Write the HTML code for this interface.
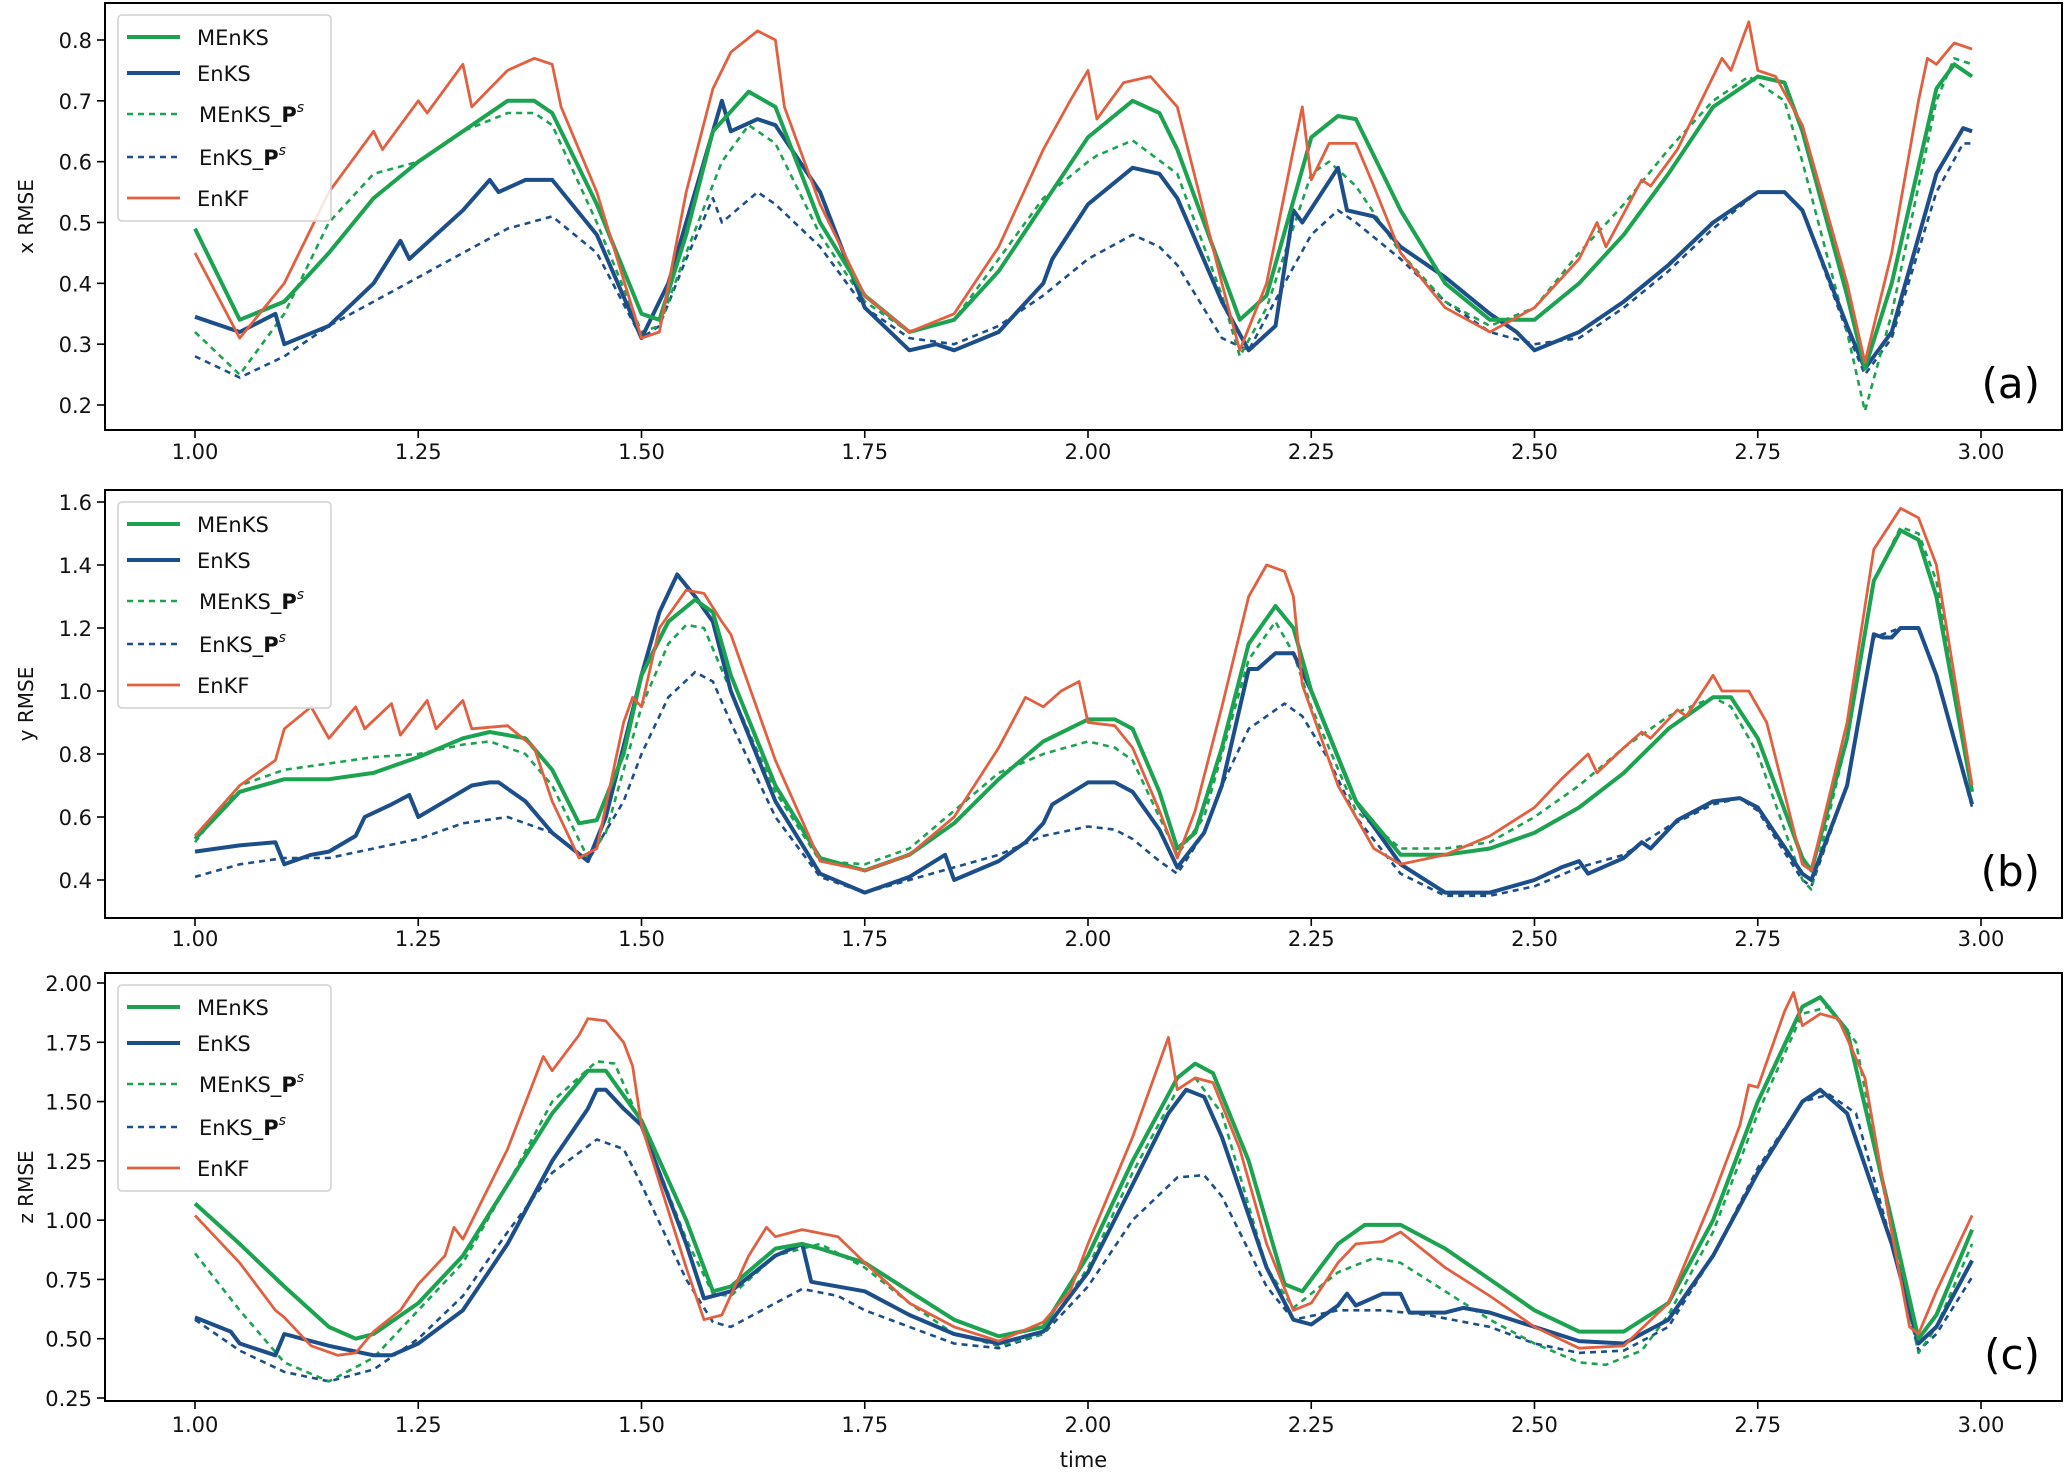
<!DOCTYPE html>
<html><head><meta charset="utf-8">
<style>
html,body{margin:0;padding:0;background:#fff;}
svg{display:block;font-family:"DejaVu Sans","Liberation Sans",sans-serif;}
</style></head>
<body>
<svg id="chart" width="2066" height="1472" viewBox="0 0 2066 1472" xmlns="http://www.w3.org/2000/svg"></svg>
<script>
// ---------- data ----------
const xTicks = [1.00,1.25,1.50,1.75,2.00,2.25,2.50,2.75,3.00];
const yTicksA = [0.2,0.3,0.4,0.5,0.6,0.7,0.8];
const yTicksB = [0.4,0.6,0.8,1.0,1.2,1.4,1.6];
const yTicksC = [0.25,0.50,0.75,1.00,1.25,1.50,1.75,2.00];
const seriesNames = ["MEnKS","EnKS","MEnKS_Ps","EnKS_Ps","EnKF"];

// Panel (a) x RMSE
const aMEnKS = [[1.00,0.49],[1.05,0.34],[1.10,0.37],[1.15,0.45],[1.20,0.54],[1.25,0.60],[1.30,0.65],[1.35,0.70],[1.38,0.70],[1.40,0.68],[1.45,0.53],[1.50,0.35],[1.52,0.34],[1.55,0.48],[1.58,0.65],[1.62,0.715],[1.65,0.69],[1.70,0.50],[1.75,0.38],[1.80,0.32],[1.85,0.34],[1.90,0.42],[1.95,0.53],[2.00,0.64],[2.05,0.70],[2.08,0.68],[2.10,0.62],[2.15,0.42],[2.17,0.34],[2.20,0.38],[2.25,0.64],[2.28,0.675],[2.30,0.67],[2.35,0.52],[2.40,0.40],[2.45,0.34],[2.50,0.34],[2.55,0.40],[2.60,0.48],[2.65,0.58],[2.70,0.69],[2.75,0.74],[2.78,0.73],[2.80,0.65],[2.85,0.38],[2.87,0.26],[2.90,0.40],[2.95,0.72],[2.97,0.76],[2.99,0.74]];
const aEnKS = [[1.00,0.345],[1.05,0.32],[1.09,0.35],[1.10,0.30],[1.15,0.33],[1.20,0.40],[1.23,0.47],[1.24,0.44],[1.30,0.52],[1.33,0.57],[1.34,0.55],[1.37,0.57],[1.40,0.57],[1.45,0.48],[1.50,0.31],[1.53,0.40],[1.55,0.50],[1.59,0.70],[1.60,0.65],[1.63,0.67],[1.65,0.66],[1.70,0.55],[1.75,0.36],[1.80,0.29],[1.83,0.30],[1.85,0.29],[1.90,0.32],[1.95,0.40],[1.96,0.44],[2.00,0.53],[2.05,0.59],[2.08,0.58],[2.10,0.54],[2.15,0.37],[2.18,0.29],[2.21,0.33],[2.23,0.52],[2.24,0.50],[2.28,0.59],[2.29,0.52],[2.32,0.51],[2.35,0.46],[2.40,0.41],[2.45,0.35],[2.48,0.32],[2.50,0.29],[2.55,0.32],[2.60,0.37],[2.65,0.43],[2.70,0.50],[2.75,0.55],[2.78,0.55],[2.80,0.52],[2.85,0.33],[2.87,0.26],[2.90,0.32],[2.95,0.58],[2.98,0.655],[2.99,0.65]];
const aMEnKSPs = [[1.00,0.32],[1.05,0.25],[1.10,0.35],[1.15,0.50],[1.20,0.58],[1.25,0.60],[1.30,0.65],[1.35,0.68],[1.38,0.68],[1.40,0.66],[1.45,0.50],[1.50,0.32],[1.52,0.33],[1.55,0.45],[1.59,0.60],[1.62,0.66],[1.65,0.63],[1.70,0.48],[1.75,0.37],[1.80,0.32],[1.85,0.34],[1.90,0.44],[1.95,0.54],[2.00,0.60],[2.01,0.61],[2.05,0.635],[2.10,0.58],[2.15,0.38],[2.17,0.28],[2.20,0.36],[2.25,0.58],[2.27,0.60],[2.30,0.56],[2.35,0.45],[2.40,0.37],[2.45,0.33],[2.50,0.36],[2.55,0.45],[2.60,0.53],[2.65,0.62],[2.70,0.70],[2.74,0.74],[2.78,0.70],[2.80,0.60],[2.85,0.32],[2.87,0.19],[2.90,0.35],[2.95,0.70],[2.97,0.77],[2.99,0.76]];
const aEnKSPs = [[1.00,0.28],[1.05,0.245],[1.10,0.28],[1.15,0.33],[1.20,0.37],[1.25,0.41],[1.30,0.45],[1.35,0.49],[1.40,0.51],[1.45,0.45],[1.50,0.31],[1.52,0.33],[1.55,0.44],[1.58,0.54],[1.59,0.50],[1.63,0.55],[1.65,0.53],[1.70,0.46],[1.75,0.36],[1.80,0.31],[1.85,0.30],[1.90,0.33],[1.95,0.38],[2.00,0.44],[2.05,0.48],[2.08,0.46],[2.10,0.43],[2.15,0.31],[2.18,0.29],[2.22,0.40],[2.25,0.48],[2.28,0.52],[2.30,0.50],[2.35,0.44],[2.40,0.37],[2.45,0.32],[2.50,0.30],[2.55,0.31],[2.60,0.36],[2.65,0.42],[2.70,0.49],[2.75,0.55],[2.78,0.55],[2.80,0.52],[2.85,0.32],[2.87,0.25],[2.90,0.31],[2.95,0.55],[2.98,0.63],[2.99,0.63]];
const aEnKF = [[1.00,0.45],[1.05,0.31],[1.10,0.40],[1.15,0.55],[1.20,0.65],[1.21,0.62],[1.25,0.70],[1.26,0.68],[1.30,0.76],[1.31,0.69],[1.35,0.75],[1.38,0.77],[1.40,0.76],[1.41,0.69],[1.45,0.55],[1.50,0.31],[1.52,0.32],[1.55,0.55],[1.58,0.72],[1.60,0.78],[1.63,0.815],[1.65,0.80],[1.66,0.69],[1.70,0.53],[1.75,0.38],[1.80,0.32],[1.85,0.35],[1.90,0.46],[1.95,0.62],[1.98,0.70],[2.00,0.75],[2.01,0.67],[2.04,0.73],[2.07,0.74],[2.10,0.69],[2.15,0.40],[2.17,0.29],[2.20,0.40],[2.23,0.62],[2.24,0.69],[2.25,0.57],[2.27,0.63],[2.30,0.63],[2.32,0.56],[2.35,0.45],[2.40,0.36],[2.45,0.32],[2.50,0.36],[2.55,0.44],[2.57,0.50],[2.58,0.46],[2.62,0.57],[2.63,0.56],[2.66,0.62],[2.70,0.74],[2.71,0.77],[2.72,0.75],[2.74,0.83],[2.75,0.75],[2.77,0.74],[2.80,0.66],[2.85,0.40],[2.87,0.27],[2.90,0.45],[2.93,0.70],[2.94,0.77],[2.95,0.76],[2.97,0.795],[2.99,0.785]];

// Panel (b) y RMSE
const bMEnKS = [[1.00,0.53],[1.05,0.68],[1.10,0.72],[1.15,0.72],[1.20,0.74],[1.25,0.79],[1.30,0.85],[1.33,0.87],[1.37,0.85],[1.40,0.75],[1.43,0.58],[1.45,0.59],[1.48,0.80],[1.50,1.05],[1.53,1.22],[1.56,1.29],[1.58,1.25],[1.60,1.05],[1.65,0.70],[1.70,0.47],[1.75,0.43],[1.80,0.48],[1.85,0.58],[1.90,0.72],[1.95,0.84],[2.00,0.91],[2.03,0.91],[2.05,0.88],[2.08,0.68],[2.10,0.50],[2.12,0.55],[2.15,0.82],[2.18,1.15],[2.21,1.27],[2.23,1.20],[2.25,1.00],[2.30,0.65],[2.35,0.48],[2.40,0.48],[2.45,0.50],[2.50,0.55],[2.55,0.63],[2.60,0.74],[2.65,0.88],[2.70,0.98],[2.72,0.98],[2.75,0.85],[2.80,0.47],[2.81,0.43],[2.85,0.85],[2.88,1.35],[2.91,1.51],[2.93,1.48],[2.95,1.30],[2.99,0.68]];
const bEnKS = [[1.00,0.49],[1.05,0.51],[1.09,0.52],[1.10,0.45],[1.13,0.48],[1.15,0.49],[1.18,0.54],[1.19,0.60],[1.22,0.64],[1.24,0.67],[1.25,0.60],[1.28,0.65],[1.31,0.70],[1.33,0.71],[1.34,0.71],[1.37,0.65],[1.40,0.55],[1.44,0.46],[1.46,0.60],[1.50,1.05],[1.52,1.25],[1.54,1.37],[1.56,1.30],[1.58,1.22],[1.60,1.00],[1.65,0.65],[1.70,0.42],[1.75,0.36],[1.80,0.41],[1.84,0.48],[1.85,0.40],[1.90,0.46],[1.93,0.52],[1.95,0.58],[1.96,0.64],[2.00,0.71],[2.03,0.71],[2.05,0.68],[2.08,0.56],[2.10,0.44],[2.13,0.55],[2.15,0.70],[2.18,1.07],[2.19,1.07],[2.21,1.12],[2.23,1.12],[2.25,1.00],[2.30,0.65],[2.35,0.45],[2.40,0.36],[2.45,0.36],[2.50,0.40],[2.53,0.44],[2.55,0.46],[2.56,0.42],[2.60,0.47],[2.62,0.52],[2.63,0.50],[2.66,0.59],[2.70,0.65],[2.73,0.66],[2.75,0.63],[2.80,0.42],[2.81,0.40],[2.85,0.70],[2.88,1.18],[2.89,1.17],[2.90,1.17],[2.91,1.20],[2.93,1.20],[2.95,1.05],[2.99,0.64]];
const bMEnKSPs = [[1.00,0.52],[1.05,0.70],[1.10,0.75],[1.15,0.77],[1.20,0.79],[1.25,0.80],[1.30,0.83],[1.33,0.84],[1.37,0.80],[1.40,0.70],[1.44,0.47],[1.46,0.55],[1.50,0.95],[1.53,1.15],[1.55,1.21],[1.57,1.20],[1.60,1.00],[1.65,0.68],[1.70,0.46],[1.75,0.45],[1.80,0.50],[1.85,0.62],[1.90,0.74],[1.95,0.80],[2.00,0.84],[2.03,0.82],[2.05,0.78],[2.08,0.60],[2.10,0.48],[2.13,0.60],[2.15,0.80],[2.18,1.10],[2.21,1.22],[2.23,1.12],[2.25,0.95],[2.30,0.62],[2.35,0.50],[2.40,0.50],[2.45,0.52],[2.50,0.60],[2.55,0.70],[2.60,0.82],[2.65,0.92],[2.70,0.98],[2.72,0.95],[2.75,0.80],[2.80,0.40],[2.81,0.37],[2.85,0.85],[2.88,1.35],[2.91,1.52],[2.93,1.50],[2.95,1.35],[2.99,0.70]];
const bEnKSPs = [[1.00,0.41],[1.05,0.45],[1.10,0.47],[1.15,0.47],[1.20,0.50],[1.25,0.53],[1.30,0.58],[1.35,0.60],[1.40,0.55],[1.44,0.46],[1.48,0.65],[1.50,0.80],[1.53,0.98],[1.56,1.06],[1.58,1.03],[1.60,0.90],[1.65,0.60],[1.70,0.41],[1.75,0.36],[1.80,0.40],[1.85,0.44],[1.90,0.48],[1.95,0.54],[2.00,0.57],[2.03,0.56],[2.05,0.53],[2.08,0.46],[2.10,0.42],[2.13,0.55],[2.15,0.70],[2.18,0.88],[2.22,0.96],[2.24,0.92],[2.27,0.78],[2.30,0.60],[2.35,0.42],[2.40,0.35],[2.45,0.35],[2.50,0.38],[2.55,0.44],[2.60,0.48],[2.65,0.57],[2.70,0.64],[2.73,0.66],[2.75,0.62],[2.80,0.40],[2.81,0.38],[2.85,0.70],[2.88,1.17],[2.91,1.20],[2.93,1.20],[2.95,1.05],[2.99,0.63]];
const bEnKF = [[1.00,0.54],[1.05,0.70],[1.09,0.78],[1.10,0.88],[1.13,0.95],[1.15,0.85],[1.18,0.95],[1.19,0.88],[1.22,0.96],[1.23,0.86],[1.26,0.97],[1.27,0.88],[1.30,0.97],[1.31,0.88],[1.35,0.89],[1.38,0.82],[1.40,0.65],[1.43,0.47],[1.45,0.50],[1.48,0.90],[1.49,0.98],[1.50,0.95],[1.52,1.20],[1.55,1.32],[1.57,1.31],[1.59,1.22],[1.60,1.18],[1.65,0.78],[1.70,0.46],[1.75,0.43],[1.80,0.48],[1.85,0.60],[1.90,0.82],[1.93,0.98],[1.95,0.95],[1.97,1.00],[1.99,1.03],[2.00,0.90],[2.03,0.89],[2.05,0.82],[2.08,0.62],[2.10,0.47],[2.12,0.62],[2.15,0.95],[2.18,1.30],[2.20,1.40],[2.22,1.38],[2.23,1.30],[2.24,1.02],[2.28,0.70],[2.32,0.50],[2.35,0.45],[2.40,0.48],[2.45,0.54],[2.50,0.63],[2.53,0.72],[2.56,0.80],[2.57,0.74],[2.60,0.82],[2.62,0.87],[2.63,0.85],[2.66,0.94],[2.67,0.92],[2.70,1.05],[2.71,1.00],[2.74,1.00],[2.76,0.90],[2.80,0.45],[2.81,0.43],[2.85,0.90],[2.88,1.45],[2.91,1.58],[2.93,1.55],[2.95,1.40],[2.99,0.70]];

// Panel (c) z RMSE
const cMEnKS = [[1.00,1.07],[1.05,0.90],[1.10,0.72],[1.15,0.55],[1.18,0.50],[1.20,0.52],[1.25,0.65],[1.30,0.85],[1.35,1.15],[1.40,1.45],[1.44,1.63],[1.46,1.63],[1.50,1.42],[1.55,1.00],[1.58,0.70],[1.60,0.72],[1.65,0.88],[1.68,0.90],[1.70,0.88],[1.75,0.82],[1.80,0.70],[1.85,0.58],[1.90,0.51],[1.95,0.55],[2.00,0.85],[2.05,1.25],[2.10,1.60],[2.12,1.66],[2.14,1.62],[2.18,1.25],[2.22,0.73],[2.24,0.70],[2.28,0.90],[2.31,0.98],[2.35,0.98],[2.40,0.88],[2.45,0.75],[2.50,0.62],[2.55,0.53],[2.60,0.53],[2.65,0.65],[2.70,1.00],[2.75,1.50],[2.80,1.90],[2.82,1.94],[2.85,1.80],[2.90,1.00],[2.93,0.50],[2.95,0.60],[2.99,0.96]];
const cEnKS = [[1.00,0.59],[1.04,0.53],[1.05,0.48],[1.09,0.43],[1.10,0.52],[1.15,0.47],[1.20,0.43],[1.22,0.43],[1.25,0.48],[1.30,0.62],[1.35,0.90],[1.40,1.25],[1.44,1.47],[1.45,1.55],[1.46,1.55],[1.48,1.47],[1.50,1.40],[1.55,0.90],[1.57,0.67],[1.60,0.70],[1.65,0.85],[1.68,0.90],[1.69,0.74],[1.75,0.70],[1.80,0.60],[1.85,0.52],[1.90,0.48],[1.95,0.53],[2.00,0.78],[2.05,1.15],[2.09,1.45],[2.11,1.55],[2.13,1.52],[2.15,1.35],[2.20,0.80],[2.23,0.58],[2.25,0.56],[2.28,0.64],[2.29,0.69],[2.30,0.64],[2.33,0.69],[2.35,0.69],[2.36,0.61],[2.40,0.61],[2.42,0.63],[2.45,0.61],[2.50,0.55],[2.55,0.49],[2.60,0.48],[2.65,0.58],[2.70,0.85],[2.75,1.20],[2.80,1.50],[2.82,1.55],[2.85,1.45],[2.90,0.90],[2.93,0.48],[2.95,0.55],[2.99,0.83]];
const cMEnKSPs = [[1.00,0.86],[1.05,0.62],[1.10,0.40],[1.15,0.32],[1.20,0.42],[1.25,0.62],[1.30,0.82],[1.35,1.15],[1.40,1.50],[1.45,1.67],[1.47,1.66],[1.50,1.40],[1.55,0.92],[1.58,0.69],[1.60,0.68],[1.65,0.85],[1.70,0.90],[1.75,0.80],[1.80,0.65],[1.85,0.52],[1.90,0.47],[1.95,0.52],[2.00,0.80],[2.05,1.20],[2.10,1.55],[2.12,1.60],[2.15,1.45],[2.20,0.80],[2.23,0.63],[2.28,0.78],[2.32,0.84],[2.35,0.82],[2.40,0.70],[2.45,0.58],[2.50,0.48],[2.55,0.40],[2.58,0.39],[2.62,0.45],[2.65,0.60],[2.70,0.95],[2.75,1.45],[2.80,1.87],[2.83,1.90],[2.86,1.75],[2.90,0.95],[2.93,0.44],[2.95,0.55],[2.99,0.90]];
const cEnKSPs = [[1.00,0.58],[1.05,0.45],[1.10,0.36],[1.15,0.32],[1.20,0.37],[1.25,0.50],[1.30,0.68],[1.35,0.95],[1.40,1.20],[1.45,1.34],[1.48,1.30],[1.50,1.15],[1.55,0.75],[1.58,0.57],[1.60,0.55],[1.65,0.65],[1.68,0.71],[1.72,0.68],[1.75,0.62],[1.80,0.55],[1.85,0.48],[1.90,0.46],[1.95,0.52],[2.00,0.72],[2.05,1.00],[2.10,1.18],[2.13,1.19],[2.15,1.10],[2.20,0.72],[2.23,0.58],[2.28,0.62],[2.33,0.62],[2.38,0.60],[2.45,0.55],[2.50,0.48],[2.55,0.44],[2.60,0.45],[2.65,0.55],[2.70,0.85],[2.75,1.22],[2.80,1.50],[2.83,1.53],[2.86,1.45],[2.90,0.90],[2.93,0.45],[2.95,0.52],[2.99,0.76]];
const cEnKF = [[1.00,1.02],[1.05,0.82],[1.09,0.62],[1.10,0.59],[1.13,0.47],[1.16,0.43],[1.18,0.44],[1.20,0.53],[1.23,0.62],[1.25,0.73],[1.28,0.85],[1.29,0.97],[1.30,0.92],[1.35,1.30],[1.39,1.69],[1.40,1.63],[1.43,1.78],[1.44,1.85],[1.46,1.84],[1.48,1.75],[1.49,1.65],[1.50,1.40],[1.55,0.80],[1.57,0.58],[1.59,0.60],[1.62,0.85],[1.64,0.97],[1.65,0.93],[1.68,0.96],[1.72,0.93],[1.75,0.82],[1.80,0.65],[1.85,0.55],[1.90,0.49],[1.95,0.57],[1.98,0.70],[2.00,0.90],[2.05,1.35],[2.09,1.77],[2.10,1.55],[2.12,1.60],[2.14,1.58],[2.17,1.30],[2.20,0.90],[2.23,0.62],[2.25,0.65],[2.28,0.82],[2.30,0.90],[2.33,0.91],[2.35,0.95],[2.40,0.80],[2.45,0.68],[2.50,0.55],[2.55,0.46],[2.60,0.47],[2.65,0.65],[2.70,1.10],[2.73,1.40],[2.74,1.57],[2.75,1.56],[2.78,1.88],[2.79,1.96],[2.80,1.82],[2.82,1.87],[2.84,1.85],[2.87,1.60],[2.90,0.95],[2.92,0.55],[2.93,0.52],[2.95,0.70],[2.99,1.02]];

// ---------- drawing ----------
const NS = "http://www.w3.org/2000/svg";
const svg = document.getElementById("chart");
const GREEN = "#1ba350", BLUE = "#1c4f8a", ORANGE = "#e2603f";
const styles = {
  MEnKS:   {stroke:GREEN, w:4, dash:null},
  EnKS:    {stroke:BLUE, w:4, dash:null},
  MEnKS_Ps:{stroke:GREEN, w:2.6, dash:"6,5"},
  EnKS_Ps: {stroke:BLUE, w:2.6, dash:"6,5"},
  EnKF:    {stroke:ORANGE, w:2.8, dash:null}
};
function mk(tag, attrs, parent){
  const e = document.createElementNS(NS, tag);
  for (const k in attrs) e.setAttribute(k, attrs[k]);
  (parent||svg).appendChild(e);
  return e;
}
const L = 105, R = 2062;
const xs = t => 195 + (t - 1.0) * 893;

const panels = [
  {id:"a", top:3, bot:430, y0v:0.2, y0p:405, y1v:0.8, y1p:40, ticks:yTicksA, fmt:1, ylab:"x RMSE", labY:459,
   data:{MEnKS:aMEnKS,EnKS:aEnKS,MEnKS_Ps:aMEnKSPs,EnKS_Ps:aEnKSPs,EnKF:aEnKF}},
  {id:"b", top:490, bot:918, y0v:0.4, y0p:880, y1v:1.6, y1p:502, ticks:yTicksB, fmt:1, ylab:"y RMSE", labY:946,
   data:{MEnKS:bMEnKS,EnKS:bEnKS,MEnKS_Ps:bMEnKSPs,EnKS_Ps:bEnKSPs,EnKF:bEnKF}},
  {id:"c", top:973, bot:1401, y0v:0.25, y0p:1398, y1v:2.00, y1p:983, ticks:yTicksC, fmt:2, ylab:"z RMSE", labY:1432,
   data:{MEnKS:cMEnKS,EnKS:cEnKS,MEnKS_Ps:cMEnKSPs,EnKS_Ps:cEnKSPs,EnKF:cEnKF}}
];

panels.forEach(p => {
  const ys = v => p.y0p + (v - p.y0v) * (p.y1p - p.y0p) / (p.y1v - p.y0v);
  const g = mk("g", {});
  
  
  const cp = mk("clipPath", {id:"clip"+p.id}, g);
  mk("rect", {x:L, y:p.top, width:R-L, height:p.bot-p.top}, cp);

  const sg = mk("g", {"clip-path":"url(#clip"+p.id+")"}, g);
  ["EnKS_Ps","MEnKS_Ps","EnKS","MEnKS","EnKF"].forEach(name => {
    const st = styles[name];
    const pts = p.data[name].map(d => xs(d[0]).toFixed(1)+","+ys(d[1]).toFixed(1)).join(" ");
    const pl = mk("polyline", {points:pts, fill:"none", stroke:st.stroke, "stroke-width":st.w,
      "stroke-linejoin":"round", "stroke-linecap":"butt"}, sg);
    if (st.dash) pl.setAttribute("stroke-dasharray", st.dash);
    
    
  });

  const fr = mk("rect", {x:L, y:p.top, width:R-L, height:p.bot-p.top, fill:"none", stroke:"#000", "stroke-width":2}, g);
  
  

  xTicks.forEach(t => {
    const x = xs(t);
    mk("line", {x1:x, x2:x, y1:p.bot, y2:p.bot+8, stroke:"#000", "stroke-width":1.6}, g);
    const tx = mk("text", {x:x, y:p.labY, "text-anchor":"middle", "font-size":21, fill:"#111"}, g);
    tx.textContent = t.toFixed(2);
    
    
  });
  p.ticks.forEach(v => {
    const y = ys(v);
    mk("line", {x1:L-8, x2:L, y1:y, y2:y, stroke:"#000", "stroke-width":1.6}, g);
    const tx = mk("text", {x:L-13, y:y+8, "text-anchor":"end", "font-size":21, fill:"#111"}, g);
    tx.textContent = v.toFixed(p.fmt);
    
    
  });
  const cy = (p.top + p.bot) / 2;
  const yl = mk("text", {x:33, y:cy, "text-anchor":"middle", "font-size":20, fill:"#111", transform:"rotate(-90 33 "+cy+")"}, g);
  yl.textContent = p.ylab;
  
  
  const pt = mk("text", {x:2040, y:p.bot-32, "text-anchor":"end", "font-size":42, fill:"#000"}, g);
  pt.textContent = "(" + p.id + ")";
  
  

  const lx = 118, ly = p.top + 12;
  const lg = mk("g", {}, g);
  
  
  mk("rect", {x:lx, y:ly, width:213, height:206, rx:4, fill:"#fff", "fill-opacity":0.85, stroke:"#d0d0d0", "stroke-width":1.5}, lg);
  const rowsY = [22, 58, 99, 142, 183];
  seriesNames.forEach((name, i) => {
    const st = styles[name];
    const y = ly + rowsY[i];
    const ln = mk("line", {x1:lx+9, x2:lx+62, y1:y, y2:y, stroke:st.stroke, "stroke-width":st.w}, lg);
    if (st.dash) ln.setAttribute("stroke-dasharray", st.dash);
    const t = mk("text", {x: lx + (name.indexOf("_")>0 ? 81 : 79), y:y+8, "font-size":21, fill:"#111"}, lg);
    if (name.indexOf("_") > 0) {
      t.textContent = name.split("_")[0] + "_";
      const b = mk("tspan", {"font-weight":"bold"}, t); b.textContent = "P";
      const s = mk("tspan", {"font-size":14, "font-style":"italic", dy:-10}, t); s.textContent = "s";
    } else {
      t.textContent = name;
    }
    
    
  });
});

const xl = mk("text", {x:(L+R)/2, y:1467, "text-anchor":"middle", "font-size":21, fill:"#111"});
xl.textContent = "time";


</script>
</body></html>
